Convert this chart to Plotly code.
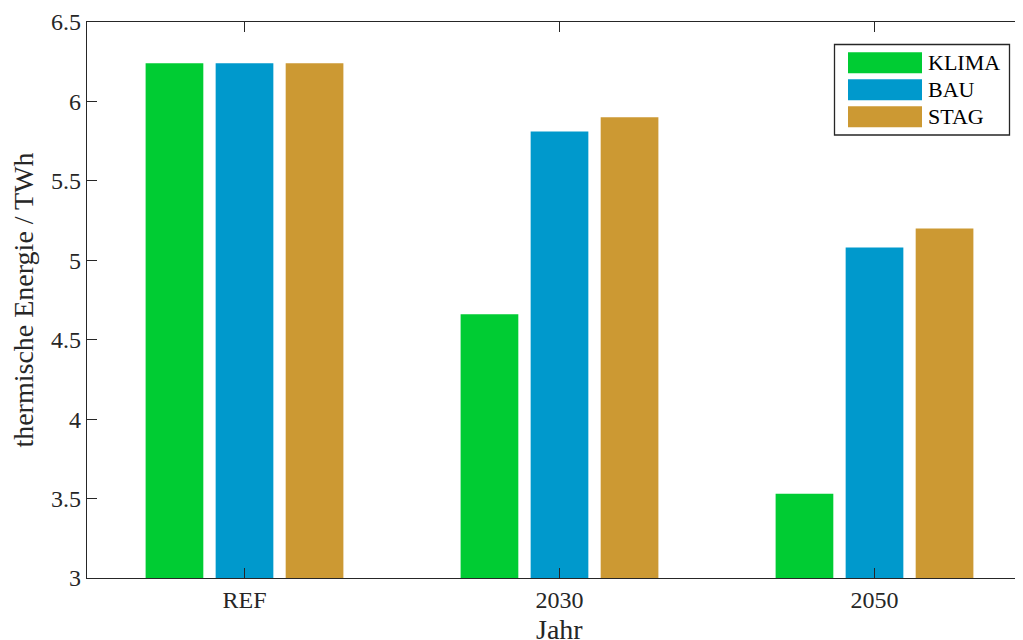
import plotly.graph_objects as go

categories = ["REF", "2030", "2050"]
series_names = ["KLIMA", "BAU", "STAG"]
klima = [6.24, 4.66, 3.53]
bau = [6.24, 5.81, 5.08]
stag = [6.24, 5.90, 5.20]
y_ticks = [3, 3.5, 4, 4.5, 5, 5.5, 6, 6.5]
y_ticktext = ["3", "3.5", "4", "4.5", "5", "5.5", "6", "6.5"]
x_title = "Jahr"
y_title = "thermische Energie / TWh"

colors = ["#00CC33", "#0099CC", "#CC9933"]
FONT = "Liberation Serif"
AX = "#262626"

OFF = 8  # page body margin
W, H = 1024, 632
L, R, T, B = 79, 0, 14, 62
PW, PH = W - L - R, H - T - B

fig = go.Figure()
xs = [1, 2, 3]
for name, vals, c in zip(series_names, [klima, bau, stag], colors):
    fig.add_trace(go.Bar(x=xs, y=vals, name=name, marker=dict(color=c, line=dict(width=0)),
                         showlegend=False))

fig.update_layout(
    width=W, height=H,
    margin=dict(l=L, r=R, t=T, b=B, pad=0, autoexpand=False),
    paper_bgcolor="white", plot_bgcolor="white",
    barmode="group", bargap=0.333, bargroupgap=0.176,
    font=dict(family=FONT, size=24, color=AX),
)
fig.update_xaxes(
    range=[0.5, 3.5], tickvals=xs, ticktext=categories, automargin=False,
    showline=True, linecolor=AX, linewidth=1.3, mirror="ticks",
    ticks="inside", ticklen=10, tickcolor=AX, tickwidth=1.3,
    showgrid=False, zeroline=False,
    tickfont=dict(family=FONT, size=24, color=AX),
)
fig.update_yaxes(
    range=[3, 6.5], tickvals=y_ticks, ticktext=y_ticktext, automargin=False,
    showline=True, linecolor=AX, linewidth=1.3, mirror="ticks",
    ticks="inside", ticklen=10, tickcolor=AX, tickwidth=1.3,
    showgrid=False, zeroline=False,
    title=dict(text=y_title, font=dict(family=FONT, size=28, color=AX), standoff=12),
    tickfont=dict(family=FONT, size=24, color=AX),
)

def px2x(px):
    return (px - OFF - L) / PW

def px2y(py):
    return (OFF + H - B - py) / PH

# x-axis title (placed as annotation for exact vertical position)
fig.add_annotation(xref="paper", yref="paper", x=0.5, y=px2y(612),
                   xanchor="center", yanchor="top", text=x_title, showarrow=False,
                   font=dict(family=FONT, size=28, color=AX))

# legend box
fig.add_shape(type="rect", xref="paper", yref="paper",
              x0=px2x(834.5), x1=px2x(1009.5), y0=px2y(135), y1=px2y(44.5),
              line=dict(color=AX, width=1.3), fillcolor="white")
centers = [62.8, 89.7, 116.7]
for name, c, cy in zip(series_names, colors, centers):
    fig.add_shape(type="rect", xref="paper", yref="paper",
                  x0=px2x(848), x1=px2x(922), y0=px2y(cy + 10.5), y1=px2y(cy - 10.5),
                  line=dict(width=0), fillcolor=c)
    fig.add_annotation(xref="paper", yref="paper", x=px2x(926), y=px2y(cy),
                       xanchor="left", yanchor="middle", text=name, showarrow=False,
                       font=dict(family=FONT, size=22, color="black"))

fig.write_html("out.html")
